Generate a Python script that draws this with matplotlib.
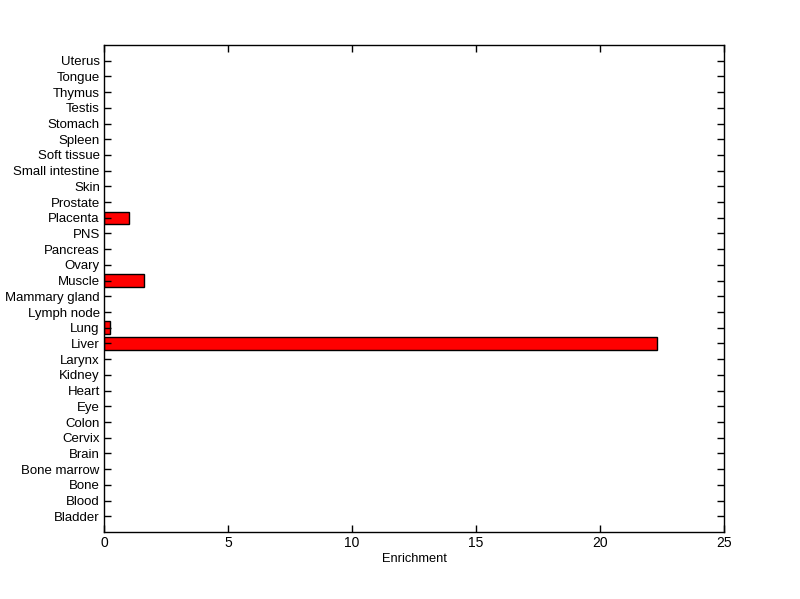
import matplotlib
matplotlib.use("Agg")
import matplotlib.pyplot as plt

tissues = ["Bladder", "Blood", "Bone", "Bone marrow", "Brain", "Cervix", "Colon", "Eye",
           "Heart", "Kidney", "Larynx", "Liver", "Lung", "Lymph node", "Mammary gland",
           "Muscle", "Ovary", "Pancreas", "PNS", "Placenta", "Prostate", "Skin",
           "Small intestine", "Soft tissue", "Spleen", "Stomach", "Testis", "Thymus",
           "Tongue", "Uterus"]
enrichment = [0, 0, 0, 0, 0, 0, 0, 0, 0, 0, 0, 22.3, 0.24, 0, 0, 1.62, 0, 0, 0, 1.02,
              0, 0, 0, 0, 0, 0, 0, 0, 0, 0]
xticks = [0, 5, 10, 15, 20, 25]

plt.rcParams['font.family'] = ['Liberation Sans', 'DejaVu Sans']
fig = plt.figure(figsize=(8, 5.99), dpi=100)
ax = fig.add_axes([0.13, 0.1119, 0.775, 0.8130])
pos = list(range(1, len(tissues) + 1))
nz = [(p, v) for p, v in zip(pos, enrichment) if v > 0]
ax.barh([p for p, v in nz], [v for p, v in nz], height=0.8, color='#ff0000',
        edgecolor='black', linewidth=1)
ax.set_xlim(0, 25)
ax.set_ylim(0, len(tissues) + 1)
ax.set_xticks(xticks)
ax.set_xticklabels([str(t) for t in xticks], fontsize=10)
ax.set_yticks(pos)
ax.set_yticklabels(tissues, fontsize=9.5)
ax.set_xlabel("Enrichment", fontsize=9.3, labelpad=2)
ax.tick_params(direction='in', length=5, width=1, top=True, right=True, pad=3)
for s in ax.spines.values():
    s.set_linewidth(1)
fig.savefig("out.png", dpi=100)
